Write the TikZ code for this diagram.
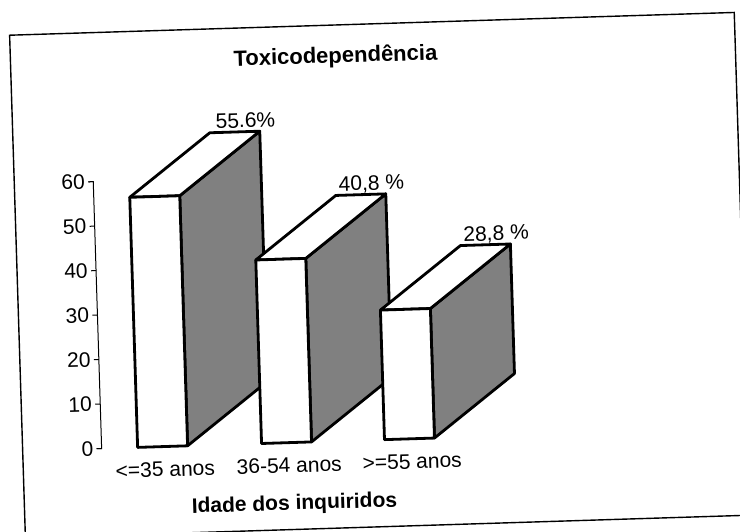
\documentclass[tikz,border=0pt]{standalone}
\usepackage{fontspec}
\setmainfont{Liberation Sans}

\begin{document}
\begin{tikzpicture}[x=0.5pt,y=-0.5pt,
  frente/.style={draw=black,line width=1.4pt,line join=round,fill=white},
  lado/.style={draw=black,line width=1.4pt,line join=round,fill=black!50},
  rotulo/.style={font=\fontsize{10.5}{12}\selectfont,inner sep=0pt}]
\useasboundingbox (0,0) rectangle (740,531);
\clip (0,0) rectangle (740,531);
\begin{scope}[rotate around={1.8:(370,265)},transform shape]
\draw[line width=0.7pt] (17,24) rectangle (742,527);
\node[font=\bfseries\fontsize{11}{13}\selectfont] (titulo) at (342,56) {Toxicodependência};
% eixo y
\draw[line width=0.5pt] (91,173)--(96,173)--(96,440)--(91,440);
\foreach \v in {0,10,...,60}{\draw[line width=0.5pt] (91,440-4.45*\v)--(96,440-4.45*\v);
\node[rotulo,anchor=east] (y\v) at (88,440-4.45*\v) {\v};}
% barras 3D
\foreach \x/\p/\t/\c [count=\i] in {132/55.6/{55.6\%}/{<=35 anos},256/40.8/{40,8 \%}/{36-54 anos},379/28.8/{28,8 \%}/{>=55 anos}}{
\pgfmathsetmacro\h{440-4.5*\p}
\draw[lado] (\x+50,440)--(\x+132,378)--(\x+132,\h-62)--(\x+50,\h)--cycle;
\draw[frente] (\x,\h)--(\x+82,\h-62)--(\x+132,\h-62)--(\x+50,\h)--cycle;
\draw[frente] (\x,\h) rectangle (\x+50,440);
\node[rotulo,anchor=base] (pct\i) at (\x+118,\h-66) {\t};
\node[rotulo,anchor=base] (cat\i) at (\x+27,470) {\c};}
\node[font=\bfseries\fontsize{10.5}{12}\selectfont] (eixox) at (287,502) {Idade dos inquiridos};
\end{scope}
\end{tikzpicture}
\end{document}
